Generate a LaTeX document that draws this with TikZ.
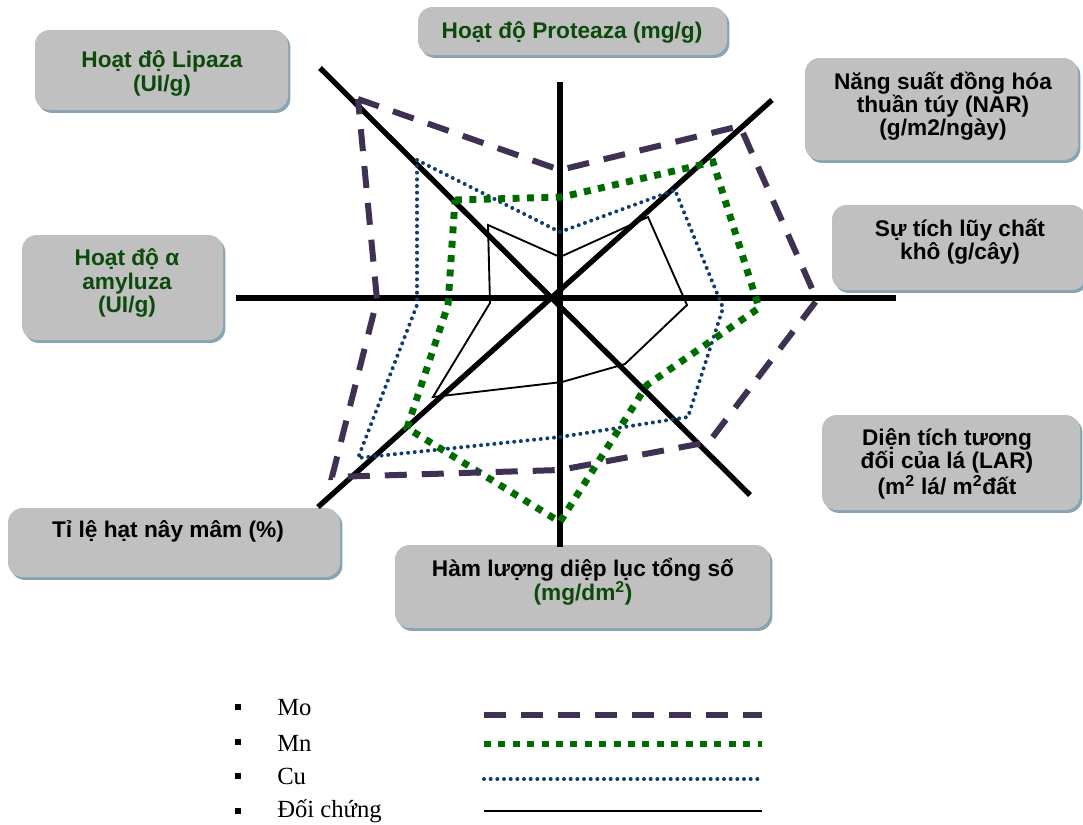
\documentclass[tikz,border=0pt]{standalone}
\usepackage{fontspec}
\setmainfont{Liberation Serif}
\newfontfamily\labfont{Liberation Sans}
\usetikzlibrary{shadows}
\definecolor{mocol}{HTML}{3F3151}
\definecolor{mncol}{HTML}{006C00}
\definecolor{cucol}{HTML}{0F3D6E}
\definecolor{txtgreen}{HTML}{0C4A0C}
\definecolor{boxgray}{HTML}{C0C0C0}
\definecolor{shadowcol}{HTML}{86A4B4}
\begin{document}
\begin{tikzpicture}[x=0.75pt,y=-0.75pt,
  box/.style={fill=boxgray, rounded corners=11pt, inner sep=0pt,
    drop shadow={shadow xshift=1.8pt,shadow yshift=-2.2pt,fill=shadowcol,opacity=1}},
  lab/.style={font=\labfont\bfseries\fontsize{17}{17.4}\selectfont, align=center, inner sep=0pt},
  axis/.style={line width=4pt, black},
  mo/.style={line width=4.5pt, mocol, dash pattern=on 16.5pt off 11.25pt},
  mn/.style={line width=5.2pt, mncol, dash pattern=on 5.2pt off 5.6pt},
  cu/.style={line width=3pt, cucol, line cap=round, dash pattern=on 0pt off 5pt},
  ctl/.style={line width=1.4pt, black},
  legtxt/.style={font=\fontsize{18.5}{20}\selectfont, anchor=west, inner sep=0pt},
  bullet/.style={fill=black, minimum size=5.2pt, inner sep=0pt}]
\useasboundingbox (0,0) rectangle (1083,825);

% label boxes
\node[box, minimum width=189.75pt, minimum height=60pt] (bLip) at (161.5,70) {};
\node[box, minimum width=231.75pt, minimum height=36pt] (bPro) at (572.5,31) {};
\node[box, minimum width=204.75pt, minimum height=76.5pt] (bNar) at (941.5,109) {};
\node[box, minimum width=190.5pt, minimum height=63.75pt] (bSu) at (959,247.5) {};
\node[box, minimum width=150.75pt, minimum height=78.75pt] (bAmy) at (122.5,287.5) {};
\node[box, minimum width=193.5pt, minimum height=71.25pt] (bLar) at (951,462.5) {};
\node[box, minimum width=249pt, minimum height=51.75pt] (bTi) at (174,542.5) {};
\node[box, minimum width=281.25pt, minimum height=62.25pt] (bHam) at (582.5,586.5) {};

\node[lab, text=txtgreen] (tLip) at (162,73.5) {Hoạt độ Lipaza\\(UI/g)};
\node[lab, text=txtgreen] (tPro) at (572,32) {Hoạt độ Proteaza (mg/g)};
\node[lab] (tNar) at (943,106) {Năng suất đồng hóa\\thuần túy (NAR)\\(g/m2/ngày)};
\node[lab] (tSu) at (960,242) {Sự tích lũy chất\\khô (g/cây)};
\node[lab, text=txtgreen] (tAmy) at (127,283) {Hoạt độ α\\amyluza\\(UI/g)};
\node[lab] (tLar) at (947,464) {Diện tích tương\\đối của lá (LAR)\\(m\textsuperscript{2} lá/ m\textsuperscript{2}đất};
\node[lab] (tTi) at (168,531) {Tỉ lệ hạt nây mâm (\%)};
\node[lab] (tHam) at (583,582) {Hàm lượng diệp lục tổng số\\[-1.5pt]\textcolor{txtgreen}{(mg/dm\textsuperscript{2})}};

% axes
\coordinate (aN) at (560,82);
\coordinate (aS) at (560,547);
\coordinate (aW) at (236,298);
\coordinate (aE) at (896,298);
\coordinate (aNW) at (320,68);
\coordinate (aSE) at (750,495);
\coordinate (aNE) at (772,100);
\coordinate (aSW) at (318,507);
\draw[axis] (aN) -- (aS);
\draw[axis] (aW) -- (aE);
\draw[axis] (aNW) -- (aSE);
\draw[axis] (aNE) -- (aSW);

% data polygons
\draw[ctl] (488,225) -- (560,257) -- (648,217) -- (687,305) -- (625,364) -- (562,382) -- (433,397) -- (490,303) -- cycle;
\draw[cu] (417,160) -- (560,232) -- (675,190) -- (723,308) -- (688,417) -- (560,437) -- (358,458) -- (417,305) -- cycle;
\draw[mn] (455,200) -- (562,197) -- (713,162) -- (759,308) -- (647,385) -- (560,522) -- (407,428) -- (448,305) -- cycle;
\draw[mo] (358,99) -- (560,170) -- (740,126) -- (817,300) -- (709,442) -- (560,470) -- (332,477) -- (377,300) -- cycle;

% legend
\node[bullet] (k1) at (238,707) {};
\node[bullet] (k2) at (238,742) {};
\node[bullet] (k3) at (238,776) {};
\node[bullet] (k4) at (238,811) {};
\node[legtxt] (l1) at (277,708) {Mo};
\node[legtxt] (l2) at (277,743) {Mn};
\node[legtxt] (l3) at (277,776) {Cu};
\node[legtxt] (l4) at (277,811) {Đối chứng};
\coordinate (m1a) at (484,715); \coordinate (m1b) at (762,715);
\coordinate (m2a) at (484,744); \coordinate (m2b) at (762,744);
\coordinate (m3a) at (484,779); \coordinate (m3b) at (762,779);
\coordinate (m4a) at (484,811); \coordinate (m4b) at (762,811);
\draw[mo] (m1a) -- (m1b);
\draw[mn] (m2a) -- (m2b);
\draw[cu] (m3a) -- (m3b);
\draw[ctl] (m4a) -- (m4b);
\end{tikzpicture}
\end{document}
